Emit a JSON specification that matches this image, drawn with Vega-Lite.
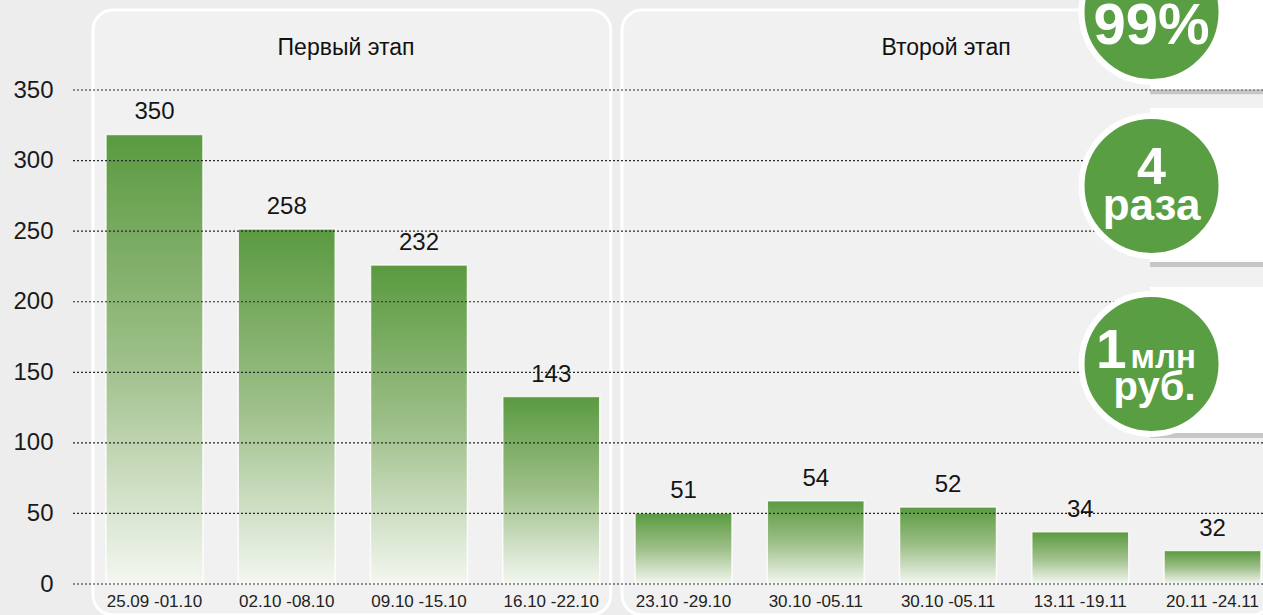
{
  "$schema": "https://vega.github.io/schema/vega-lite/v6.json",
  "width": 1191,
  "height": 605,
  "autosize": "none",
  "padding": {"left": 72, "top": 10, "right": 0, "bottom": 0},
  "background": "#ededed",
  "config": {"view": {"stroke": null}, "font": "Liberation Sans"},
  "datasets": {
    "bars": [
      {"n": 1, "period": "25.09 -01.10", "value": 318.5, "label": 350},
      {"n": 2, "period": "02.10 -08.10", "value": 251.5, "label": 258},
      {"n": 3, "period": "09.10 -15.10", "value": 226, "label": 232},
      {"n": 4, "period": "16.10 -22.10", "value": 132.8, "label": 143},
      {"n": 5, "period": "23.10 -29.10", "value": 50.3, "label": 51},
      {"n": 6, "period": "30.10 -05.11", "value": 59, "label": 54},
      {"n": 7, "period": "30.10 -05.11", "value": 54.6, "label": 52},
      {"n": 8, "period": "13.11 -19.11", "value": 37.1, "label": 34},
      {"n": 9, "period": "20.11 -24.11", "value": 23.7, "label": 32}
    ],
    "panels": [
      {"panel": "Первый этап", "from": 1, "to": 4},
      {"panel": "Второй этап", "from": 5, "to": 9}
    ],
    "ticks": [{"v": 0}, {"v": 50}, {"v": 100}, {"v": 150}, {"v": 200}, {"v": 250}, {"v": 300}, {"v": 350}]
  },
  "layer": [
    {
      "data": {"name": "panels"},
      "mark": {"type": "rect", "fill": "#f3f3f3", "fillOpacity": 0.6, "stroke": "#ffffff", "strokeWidth": 3, "cornerRadius": 20, "xOffset": -13, "x2Offset": 11},
      "encoding": {
        "x": {"field": "from", "type": "ordinal", "bandPosition": 0,
              "scale": {"type": "band", "domain": [1, 2, 3, 4, 5, 6, 7, 8, 9], "range": [0, 1223], "paddingInner": 0.267, "paddingOuter": 0.257},
              "axis": null},
        "x2": {"field": "to", "bandPosition": 1},
        "y": {"datum": 406.7, "type": "quantitative",
              "scale": {"domain": [-21.96, 406.7], "nice": false, "zero": false},
              "axis": {"values": [0, 50, 100, 150, 200, 250, 300, 350], "grid": false, "domain": false, "ticks": false,
                       "labelFontSize": 24, "labelColor": "#1a1a1a", "labelPadding": 19, "title": null, "labelFont": "Liberation Sans"}},
        "y2": {"datum": -21.96}
      }
    },
    {
      "data": {"name": "panels"},
      "transform": [{"filter": "datum.panel === 'Первый этап'"}],
      "mark": {"type": "text", "fontSize": 23, "color": "#111111", "dx": -73, "baseline": "middle"},
      "encoding": {
        "x": {"datum": 3, "type": "ordinal"},
        "y": {"datum": 379.8, "type": "quantitative"},
        "text": {"field": "panel"}
      }
    },
    {
      "data": {"name": "panels"},
      "transform": [{"filter": "datum.panel === 'Второй этап'"}],
      "mark": {"type": "text", "fontSize": 23, "color": "#111111", "dx": -2, "baseline": "middle"},
      "encoding": {
        "x": {"datum": 7, "type": "ordinal"},
        "y": {"datum": 379.8, "type": "quantitative"},
        "text": {"field": "panel"}
      }
    },
    {
      "data": {"name": "bars"},
      "mark": {"type": "bar", "stroke": "#ffffff", "strokeWidth": 1.5, "strokeOpacity": 0.8,
               "color": {"gradient": "linear", "x1": 0, "y1": 0, "x2": 0, "y2": 1,
                         "stops": [{"offset": 0, "color": "#5a9a40"}, {"offset": 0.5, "color": "#9dbf88"}, {"offset": 1, "color": "#f4f7f1"}]}},
      "encoding": {
        "x": {"field": "n", "type": "ordinal"},
        "y": {"field": "value", "type": "quantitative"},
        "y2": {"datum": 0}
      }
    },
    {
      "data": {"name": "ticks"},
      "mark": {"type": "rule", "color": "#2a2a2a", "strokeWidth": 1.2, "strokeDash": [2, 2]},
      "encoding": {
        "y": {"field": "v", "type": "quantitative"}
      }
    },
    {
      "data": {"name": "bars"},
      "mark": {"type": "text", "fontSize": 24, "color": "#151515", "dy": -22, "baseline": "middle"},
      "encoding": {
        "x": {"field": "n", "type": "ordinal"},
        "y": {"field": "value", "type": "quantitative"},
        "text": {"field": "label"}
      }
    },
    {
      "data": {"name": "bars"},
      "mark": {"type": "text", "fontSize": 17, "color": "#222222", "dy": 18, "baseline": "middle"},
      "encoding": {
        "x": {"field": "n", "type": "ordinal"},
        "y": {"datum": 0, "type": "quantitative"},
        "text": {"field": "period"}
      }
    },
    {
      "data": {"values": [{"card": 1}]},
      "layer": [
        {"mark": {"type": "rect", "fill": "#777777", "opacity": 0.35, "width": 125, "yOffset": 5, "y2Offset": 5},
         "encoding": {"x": {"datum": 9, "type": "ordinal"}, "y": {"datum": 428, "type": "quantitative"}, "y2": {"datum": 350.5}}},
        {"mark": {"type": "rect", "fill": "#777777", "opacity": 0.35, "width": 125, "yOffset": 5, "y2Offset": 5},
         "encoding": {"x": {"datum": 9, "type": "ordinal"}, "y": {"datum": 337.3, "type": "quantitative"}, "y2": {"datum": 228.1}}},
        {"mark": {"type": "rect", "fill": "#777777", "opacity": 0.35, "width": 125, "yOffset": 5, "y2Offset": 5},
         "encoding": {"x": {"datum": 9, "type": "ordinal"}, "y": {"datum": 210.4, "type": "quantitative"}, "y2": {"datum": 107.0}}},
        {"mark": {"type": "rect", "fill": "#ffffff", "width": 125},
         "encoding": {"x": {"datum": 9, "type": "ordinal"}, "y": {"datum": 428, "type": "quantitative"}, "y2": {"datum": 350.5}}},
        {"mark": {"type": "rect", "fill": "#ffffff", "width": 125},
         "encoding": {"x": {"datum": 9, "type": "ordinal"}, "y": {"datum": 337.3, "type": "quantitative"}, "y2": {"datum": 228.1}}},
        {"mark": {"type": "rect", "fill": "#ffffff", "width": 125},
         "encoding": {"x": {"datum": 9, "type": "ordinal"}, "y": {"datum": 210.4, "type": "quantitative"}, "y2": {"datum": 107.0}}},
        {"mark": {"type": "point", "shape": "circle", "filled": true, "size": 19600, "fill": "#5a9e44", "stroke": "#ffffff", "strokeWidth": 6, "opacity": 1, "xOffset": -61},
         "encoding": {"x": {"datum": 9, "type": "ordinal"}, "y": {"datum": 405.3, "type": "quantitative"}}},
        {"mark": {"type": "point", "shape": "circle", "filled": true, "size": 19600, "fill": "#5a9e44", "stroke": "#ffffff", "strokeWidth": 6, "opacity": 1, "xOffset": -61},
         "encoding": {"x": {"datum": 9, "type": "ordinal"}, "y": {"datum": 282.0, "type": "quantitative"}}},
        {"mark": {"type": "point", "shape": "circle", "filled": true, "size": 19600, "fill": "#5a9e44", "stroke": "#ffffff", "strokeWidth": 6, "opacity": 1, "xOffset": -61},
         "encoding": {"x": {"datum": 9, "type": "ordinal"}, "y": {"datum": 155.9, "type": "quantitative"}}}
      ]
    },
    {
      "data": {"values": [{"t": "99%"}]},
      "mark": {"type": "text", "fontSize": 58, "fontWeight": "bold", "color": "#ffffff", "dx": -61, "dy": 32, "baseline": "alphabetic"},
      "encoding": {"x": {"datum": 9, "type": "ordinal"}, "y": {"datum": 405.3, "type": "quantitative"}, "text": {"field": "t"}}
    },
    {
      "data": {"values": [{"t": "4"}]},
      "mark": {"type": "text", "fontSize": 52, "fontWeight": "bold", "color": "#ffffff", "dx": -61, "dy": -2, "baseline": "alphabetic"},
      "encoding": {"x": {"datum": 9, "type": "ordinal"}, "y": {"datum": 282.0, "type": "quantitative"}, "text": {"field": "t"}}
    },
    {
      "data": {"values": [{"t": "раза"}]},
      "mark": {"type": "text", "fontSize": 44, "fontWeight": "bold", "color": "#ffffff", "dx": -61, "dy": 34, "baseline": "alphabetic"},
      "encoding": {"x": {"datum": 9, "type": "ordinal"}, "y": {"datum": 282.0, "type": "quantitative"}, "text": {"field": "t"}}
    },
    {
      "data": {"values": [{"t": "1"}]},
      "mark": {"type": "text", "fontSize": 55, "fontWeight": "bold", "color": "#ffffff", "dx": -86, "dy": 4, "align": "right", "baseline": "alphabetic"},
      "encoding": {"x": {"datum": 9, "type": "ordinal"}, "y": {"datum": 155.9, "type": "quantitative"}, "text": {"field": "t"}}
    },
    {
      "data": {"values": [{"t": "млн"}]},
      "mark": {"type": "text", "fontSize": 33, "fontWeight": "bold", "color": "#ffffff", "dx": -82, "dy": 4, "align": "left", "baseline": "alphabetic"},
      "encoding": {"x": {"datum": 9, "type": "ordinal"}, "y": {"datum": 155.9, "type": "quantitative"}, "text": {"field": "t"}}
    },
    {
      "data": {"values": [{"t": "руб."}]},
      "mark": {"type": "text", "fontSize": 40, "fontWeight": "bold", "color": "#ffffff", "dx": -58, "dy": 36, "baseline": "alphabetic"},
      "encoding": {"x": {"datum": 9, "type": "ordinal"}, "y": {"datum": 155.9, "type": "quantitative"}, "text": {"field": "t"}}
    }
  ]
}
